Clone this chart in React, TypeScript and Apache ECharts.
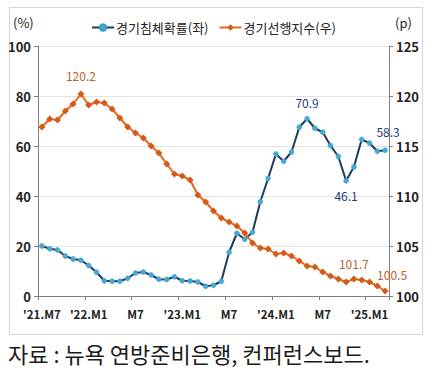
import React, { useEffect, useRef } from "react";
import * as echarts from "echarts";

const categories = [
  "2021.07", "2021.08", "2021.09", "2021.10", "2021.11", "2021.12",
  "2022.01", "2022.02", "2022.03", "2022.04", "2022.05", "2022.06",
  "2022.07", "2022.08", "2022.09", "2022.10", "2022.11", "2022.12",
  "2023.01", "2023.02", "2023.03", "2023.04", "2023.05", "2023.06",
  "2023.07", "2023.08", "2023.09", "2023.10", "2023.11", "2023.12",
  "2024.01", "2024.02", "2024.03", "2024.04", "2024.05", "2024.06",
  "2024.07", "2024.08", "2024.09", "2024.10", "2024.11", "2024.12",
  "2025.01", "2025.02", "2025.03",
];

const xTickLabels = ["'21.M7", "'22.M1", "M7", "'23.M1", "M7", "'24.M1", "M7", "'25.M1"];

const recessionProb = [
  20.0, 18.9, 18.4, 16.0, 14.8, 14.3, 12.2, 9.5, 6.1, 5.9,
  5.9, 7.1, 9.2, 9.6, 8.4, 6.7, 6.6, 7.7, 6.1, 6.0,
  5.6, 3.9, 4.3, 5.9, 17.5, 25.1, 22.7, 25.5, 37.7, 47.0,
  56.8, 53.9, 57.6, 67.5, 70.9, 67.1, 65.5, 60.2, 55.8, 46.1,
  51.6, 62.6, 61.2, 57.9, 58.3,
];

const leadingIndex = [
  116.9, 117.7, 117.6, 118.5, 119.2, 120.2, 119.1, 119.4, 119.3, 118.7,
  117.8, 116.9, 116.3, 115.8, 115.0, 114.3, 113.2, 112.2, 112.0, 111.6,
  110.1, 109.4, 108.5, 107.8, 107.4, 107.0, 106.3, 105.3, 104.8, 104.7,
  104.2, 104.3, 104.0, 103.5, 103.0, 102.9, 102.4, 102.0, 101.7, 101.4,
  101.7, 101.6, 101.4, 101.0, 100.5,
];

const seriesNames = ["경기침체확률(좌)", "경기선행지수(우)"];

// labelled points: index -> placement
const probLabels: Record<number, { position: string; offset: number[] }> = {
  34: { position: "top", offset: [0, -2] },
  39: { position: "bottom", offset: [0, 0] },
  44: { position: "top", offset: [3, -4] },
};
const leadLabels: Record<number, { position: string; offset: number[] }> = {
  5: { position: "top", offset: [0, -3] },
  40: { position: "top", offset: [0, 0] },
  44: { position: "top", offset: [7, -1] },
};

const FONT = "'Noto Sans CJK KR', 'Noto Sans', sans-serif";

export default function App() {
  const ref = useRef<HTMLDivElement>(null);

  useEffect(() => {
    if (!ref.current) return;
    const chart = echarts.init(ref.current, undefined, { renderer: "svg" });

    const probData = recessionProb.map((v, i) =>
      probLabels[i]
        ? {
            value: v,
            label: {
              show: true,
              position: probLabels[i].position,
              offset: probLabels[i].offset,
              distance: 6,
              color: "#1F3A78",
              fontSize: 12,
              fontFamily: FONT,
              formatter: v.toFixed(1),
            },
          }
        : v
    );
    const leadData = leadingIndex.map((v, i) =>
      leadLabels[i]
        ? {
            value: v,
            label: {
              show: true,
              position: leadLabels[i].position,
              offset: leadLabels[i].offset,
              distance: 6,
              color: "#C0622B",
              fontSize: 12,
              fontFamily: FONT,
              formatter: v.toFixed(1),
            },
          }
        : v
    );

    chart.setOption({
      animation: false,
      backgroundColor: "#ffffff",
      textStyle: { fontFamily: FONT },
      grid: { left: 38, right: 38, top: 46, bottom: 74, containLabel: false },
      legend: {
        top: 16,
        left: "center",
        itemWidth: 22,
        itemHeight: 8,
        itemGap: 10,
        data: seriesNames,
        textStyle: { fontSize: 13, color: "#222", fontFamily: FONT, padding: [0, 0, 0, -3] },
      },
      xAxis: {
        type: "category",
        data: categories,
        boundaryGap: true,
        axisLine: { show: true, lineStyle: { color: "#7f7f7f", width: 1 } },
        axisTick: { show: true, interval: 5, length: 4, lineStyle: { color: "#7f7f7f" } },
        axisLabel: {
          interval: 5,
          margin: 12,
          fontSize: 11.5,
          fontWeight: "bold",
          color: "#222",
          fontFamily: FONT,
          formatter: (_v: string, idx: number) => xTickLabels[Math.floor(idx / 6)] ?? "",
        },
        splitLine: { show: false },
      },
      yAxis: [
        {
          type: "value",
          min: 0,
          max: 100,
          interval: 20,
          position: "left",
          axisLine: { show: true, lineStyle: { color: "#7f7f7f" } },
          axisTick: { show: true, length: 4, lineStyle: { color: "#7f7f7f" } },
          axisLabel: { fontSize: 13, fontWeight: "bold", color: "#222", margin: 7, fontFamily: FONT },
          splitLine: { show: true, lineStyle: { color: "#e3e3e3", width: 1 } },
        },
        {
          type: "value",
          min: 100,
          max: 125,
          interval: 5,
          position: "right",
          axisLine: { show: true, lineStyle: { color: "#7f7f7f" } },
          axisTick: { show: true, length: 4, lineStyle: { color: "#7f7f7f" } },
          axisLabel: { fontSize: 13, fontWeight: "bold", color: "#222", margin: 7, fontFamily: FONT },
          splitLine: { show: false },
        },
      ],
      series: [
        {
          name: seriesNames[0],
          type: "line",
          yAxisIndex: 0,
          data: probData,
          symbol: "circle",
          symbolSize: 5,
          showAllSymbol: true,
          lineStyle: { color: "#1D3B55", width: 2 },
          itemStyle: { color: "#45AAD8", borderColor: "#3C9CCB", borderWidth: 0.5 },
          z: 2,
        },
        {
          name: seriesNames[1],
          type: "line",
          yAxisIndex: 1,
          data: leadData,
          symbol: "diamond",
          symbolSize: 7,
          showAllSymbol: true,
          lineStyle: { color: "#E5671F", width: 2 },
          itemStyle: { color: "#D35A18" },
          z: 3,
        },
      ],
      graphic: [
        {
          type: "rect",
          left: 7,
          top: 5,
          shape: { width: 413, height: 327 },
          style: { fill: "none", stroke: "#d6d6d6", lineWidth: 1 },
          silent: true,
          z: -1,
        },
        {
          type: "text",
          left: 13,
          top: 16,
          style: { text: "(%)", fontSize: 13, fill: "#222", fontFamily: FONT },
        },
        {
          type: "text",
          left: 395,
          top: 16,
          style: { text: "(p)", fontSize: 13, fill: "#222", fontFamily: FONT },
        },
        {
          type: "text",
          left: 8,
          top: 342,
          style: {
            text: "자료 : 뉴욕 연방준비은행, 컨퍼런스보드.",
            fontSize: 22,
            fill: "#1a1a1a",
            fontFamily: FONT,
          },
        },
      ],
    });

    return () => chart.dispose();
  }, []);

  return (
    <div
      ref={ref}
      style={{ position: "absolute", left: 0, top: 0, width: 427, height: 370 }}
    />
  );
}
